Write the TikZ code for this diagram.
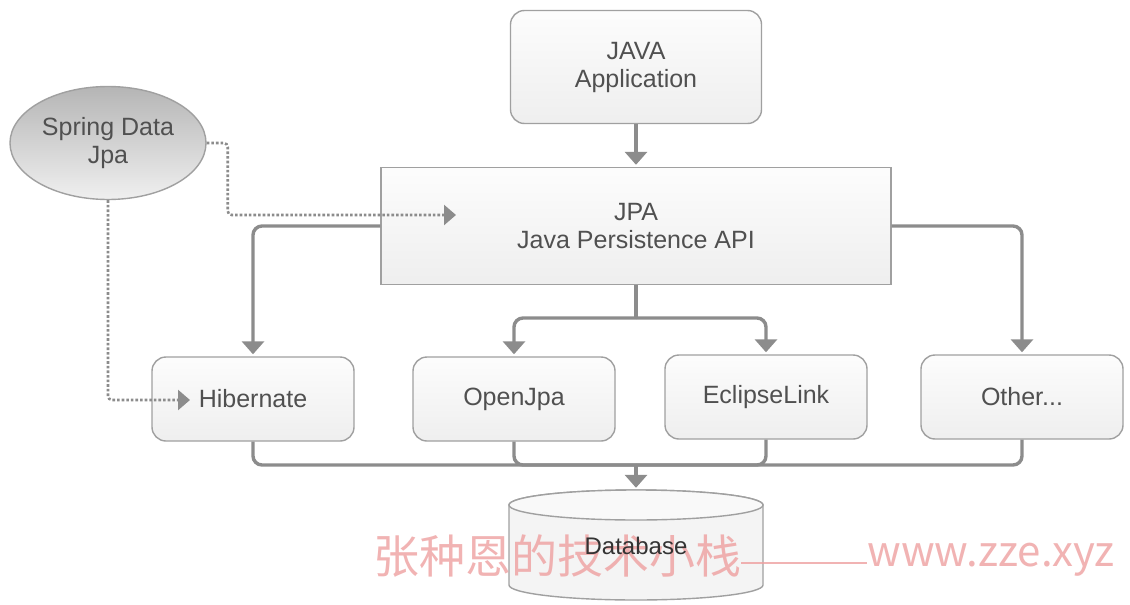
\documentclass[tikz,border=0pt]{standalone}
\usepackage{fontspec}
\setmainfont{Liberation Sans}
\newfontfamily\cjk{Noto Sans CJK SC}
\usetikzlibrary{arrows.meta}
\usetikzlibrary{shapes.geometric}
\definecolor{linegray}{HTML}{8C8C8C}
\definecolor{boxgray}{HTML}{A0A0A0}
\definecolor{textgray}{HTML}{505050}
\definecolor{markpink}{HTML}{EEA0A0}
\tikzset{
	box/.style={draw=boxgray, line width=1.4pt, top color=gray!2, bottom color=gray!13,
		text=textgray, font=\fontsize{25}{28}\selectfont, align=center, inner sep=0pt},
	roundbox/.style={box, rounded corners=14pt, minimum width=202pt, minimum height=84pt},
	link/.style={draw=linegray, line width=3.4pt, rounded corners=9pt},
	linkarrow/.style={link, -{Triangle[width=22pt, length=13pt]}, shorten >=2pt},
	dotlink/.style={draw=linegray, line width=2.6pt, dotted, rounded corners=4pt,
		-{Triangle[width=20pt, length=12pt]}},
	watermark/.style={text=markpink, opacity=0.8, inner sep=0pt}
}
\begin{document}
\begin{tikzpicture}[x=1pt, y=-1pt]
	\useasboundingbox[fill=white] (0,0) rectangle (1130,605);
	% nodes
	\node[roundbox, minimum width=251pt, minimum height=113pt] (app) at (636,67) {JAVA\\Application};
	\node[box, minimum width=510pt, minimum height=117pt] (jpa) at (636,226) {JPA\\Java Persistence API};
	\node[ellipse, draw=boxgray, line width=1.4pt, top color=gray!58, bottom color=gray!12,
		minimum width=196pt, minimum height=113pt, inner sep=0pt, text=textgray,
		font=\fontsize{25}{28}\selectfont, align=center] (spring) at (108,143) {Spring Data\\Jpa};
	\node[roundbox] (hib) at (253,399) {Hibernate};
	\node[roundbox] (openjpa) at (514,399) {OpenJpa};
	\node[roundbox] (eclipse) at (766,397) {EclipseLink};
	\node[roundbox] (other) at (1022,397) {Other...};
	\node[minimum width=254pt, minimum height=110pt, inner sep=0pt] (db) at (636,545) {};
	% cylinder
	\path[draw=boxgray, line width=1.4pt, fill=gray!9] (509,505) -- (509,585)
		arc[start angle=180, end angle=360, x radius=127pt, y radius=15pt] -- (763,505)
		arc[start angle=0, end angle=180, x radius=127pt, y radius=15pt] -- cycle;
	\draw[boxgray, line width=1.4pt, fill=gray!5] (636,505) ellipse[x radius=127pt, y radius=15pt];
	% helper points
	\coordinate (split) at (636,318);
	\coordinate (bus) at (636,465);
	\coordinate (jpatip) at (456,215);
	\coordinate (hibtip) at (190,400);
	% connectors
	\draw[linkarrow] (app.south) -- (jpa.north);
	\draw[linkarrow] (jpa.west |- 0,226) -| (hib.north);
	\draw[linkarrow] (jpa.east |- 0,226) -| (other.north);
	\draw[link] (jpa.south) -- (split);
	\draw[linkarrow] (split) -| (openjpa.north);
	\draw[linkarrow] (split) -| (eclipse.north);
	\draw[link] (hib.south) |- (bus);
	\draw[link] (openjpa.south) |- (bus);
	\draw[link] (eclipse.south) |- (bus);
	\draw[link] (other.south) |- (bus);
	\draw[linkarrow] (bus) -- (db.north);
	\draw[dotlink] (spring.east) -- ++(21,0) |- (jpatip);
	\draw[dotlink] (spring.south) |- (hibtip);
	% watermark
	\node[watermark, font=\cjk\fontsize{46}{50}\selectfont] (wmcn) at (557,556) {张种恩的技术小栈};
	\node[watermark, font=\cjk\fontsize{42}{46}\selectfont] (wmurl) at (991,560) {www.zze.xyz};
	\draw[markpink, opacity=0.8, line width=1.5pt] (wmcn.east |- 0,563) -- (wmurl.west |- 0,563);
	\node[text=black!80, font=\fontsize{24}{27}\selectfont] (dblabel) at (636,546) {Database};
\end{tikzpicture}
\end{document}
